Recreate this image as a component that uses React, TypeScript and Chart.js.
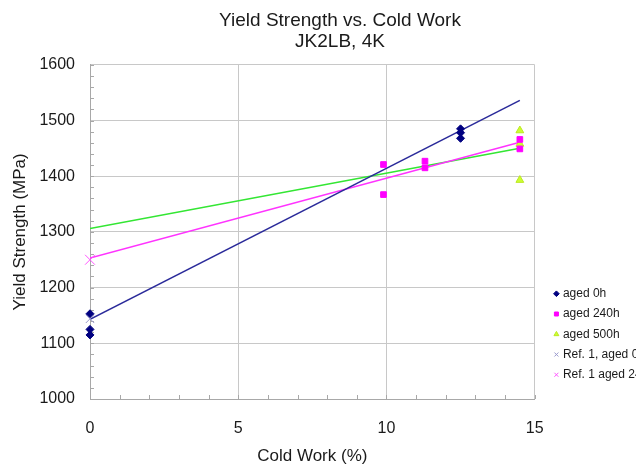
import React, { useEffect, useRef } from "react";
import { Chart, registerables } from "chart.js";

Chart.register(...registerables);

const FONT = "'Liberation Sans', Arial, Helvetica, sans-serif";
const TEXT = "#1a1a1a";

// ---- data ----
const aged0hX = [0, 0, 0, 12.5, 12.5, 12.5];
const aged0hY = [1153, 1125, 1115, 1485, 1478, 1468];
const aged240hX = [9.9, 9.9, 11.3, 11.3, 14.5, 14.5];
const aged240hY = [1421, 1367, 1427, 1415, 1466, 1449];
const aged500hX = [14.5, 14.5, 14.5];
const aged500hY = [1482, 1458, 1393];
const ref0hX = [0];
const ref0hY = [1144];
const ref240hX = [0];
const ref240hY = [1250];
const trendX = [0, 14.5];
const trend0hY = [1143, 1536];
const trend240hY = [1253, 1461];
const trend500hY = [1306, 1450];

const seriesLabels = ["aged 0h", "aged 240h", "aged 500h", "Ref. 1, aged 0h", "Ref. 1 aged 240h"];
const titleLines = ["Yield Strength vs. Cold Work", "JK2LB, 4K"];
const xTitle = "Cold Work (%)";
const yTitle = "Yield Strength (MPa)";
const xMin = 0, xMax = 15, xStep = 5, xMinorStep = 1;
const yMin = 1000, yMax = 1600, yStep = 100, yMinorStep = 20;

const pts = (xs: number[], ys: number[]) => xs.map((x, i) => ({ x, y: ys[i] }));

const minorTicks = {
  id: "minorTicks",
  beforeDraw(chart: any) {
    // lift the legend block a little above the bottom of the plot
    if (chart.legend) chart.legend.bottom = Math.round(chart.chartArea.bottom) - 10;
  },
  beforeDatasetsDraw(chart: any) {
    const { ctx, chartArea: a, scales } = chart;
    const x = scales.x, y = scales.y;
    ctx.save();
    ctx.strokeStyle = "#a8a8a8";
    ctx.lineWidth = 1;
    ctx.beginPath();
    for (let v = xMin; v <= xMax; v += xMinorStep) {
      const px = Math.round(x.getPixelForValue(v)) + 0.5;
      ctx.moveTo(px, a.bottom);
      ctx.lineTo(px, a.bottom - 4);
    }
    for (let v = yMin; v <= yMax; v += yMinorStep) {
      const py = Math.round(y.getPixelForValue(v)) + 0.5;
      ctx.moveTo(a.left, py);
      ctx.lineTo(a.left + 4, py);
    }
    ctx.stroke();
    ctx.restore();
  },
};

export default function App() {
  const ref = useRef<HTMLCanvasElement | null>(null);

  useEffect(() => {
    if (!ref.current) return;
    Chart.defaults.font.family = FONT;
    Chart.defaults.color = TEXT;
    const chart = new Chart(ref.current, {
      type: "scatter",
      data: {
        datasets: [
          {
            label: seriesLabels[0],
            data: pts(aged0hX, aged0hY),
            pointStyle: "rectRot",
            pointRadius: 4,
            backgroundColor: "#000080",
            borderColor: "#000080",
            borderWidth: 1,
            clip: false,
            order: 0,
          },
          {
            label: seriesLabels[1],
            data: pts(aged240hX, aged240hY),
            pointStyle: "rect",
            pointRadius: 4,
            backgroundColor: "#ff00ff",
            borderColor: "#ff00ff",
            borderWidth: 1,
            clip: false,
            order: 0,
          },
          {
            label: seriesLabels[2],
            data: pts(aged500hX, aged500hY),
            pointStyle: "triangle",
            pointRadius: 4.5,
            backgroundColor: "#ccff33",
            borderColor: "#bde820",
            borderWidth: 1,
            clip: false,
            order: 0,
          },
          {
            label: seriesLabels[3],
            data: pts(ref0hX, ref0hY),
            pointStyle: "crossRot",
            pointRadius: 6,
            backgroundColor: "#9999cc",
            borderColor: "#9999cc",
            borderWidth: 1,
            clip: false,
            order: -1,
          },
          {
            label: seriesLabels[4],
            data: pts(ref240hX, ref240hY),
            pointStyle: "crossRot",
            pointRadius: 7,
            backgroundColor: "#ff55ff",
            borderColor: "#ff55ff",
            borderWidth: 1,
            clip: false,
            order: -1,
          },
          {
            label: "trend 0h",
            data: pts(trendX, trend0hY),
            showLine: true,
            pointRadius: 0,
            borderColor: "#2a2a9a",
            borderWidth: 1.5,
            order: 1,
          },
          {
            label: "trend 240h",
            data: pts(trendX, trend240hY),
            showLine: true,
            pointRadius: 0,
            borderColor: "#ff33ff",
            borderWidth: 1.5,
            order: 1,
          },
          {
            label: "trend 500h",
            data: pts(trendX, trend500hY),
            showLine: true,
            pointRadius: 0,
            borderColor: "#33e633",
            borderWidth: 1.5,
            order: 1,
          },
        ],
      },
      options: {
        animation: false,
        responsive: false,
        layout: { padding: { left: 28.5, right: 28.5, top: 0, bottom: 0 } },
        plugins: {
          tooltip: { enabled: false },
          title: {
            display: true,
            text: titleLines,
            color: TEXT,
            font: { size: 19, weight: "normal", lineHeight: 1.1 },
            padding: { top: 10, bottom: 13 },
          },
          legend: {
            position: "right",
            align: "end",
            fullSize: false,
            labels: {
              usePointStyle: true,
              boxWidth: 1,
              boxHeight: 4,
              padding: 8.25,
              color: TEXT,
              font: { size: 12 },
              filter: (item: any) => item.datasetIndex < 5,
              sort: (a: any, b: any) => a.datasetIndex - b.datasetIndex,
            },
          },
        },
        scales: {
          x: {
            type: "linear",
            min: xMin,
            max: xMax,
            afterFit: (s: any) => {
              s.height = 68;
            },
            ticks: {
              stepSize: xStep,
              font: { size: 16 },
              color: TEXT,
              padding: 19.5,
              callback: (v: any) => String(v),
            },
            grid: { color: "#c8c8c8", drawTicks: false },
            border: { color: "#a8a8a8" },
            title: {
              display: true,
              text: xTitle,
              color: TEXT,
              font: { size: 17 },
              padding: { top: 8, bottom: 0 },
            },
          },
          y: {
            type: "linear",
            min: yMin,
            max: yMax,
            afterFit: (s: any) => {
              s.width = 61.5;
            },
            ticks: {
              stepSize: yStep,
              font: { size: 16 },
              color: TEXT,
              padding: 15,
              callback: (v: any) => String(v),
            },
            grid: { color: "#c8c8c8", drawTicks: false },
            border: { color: "#a8a8a8" },
            title: {
              display: true,
              text: yTitle,
              color: TEXT,
              font: { size: 17 },
              padding: { top: -18.5, bottom: 0 },
            },
          },
          gap: {
            type: "linear",
            position: "right",
            display: true,
            grid: { display: false },
            ticks: { display: false },
            border: { display: false },
            afterFit: (s: any) => {
              s.width = 13;
            },
          },
        },
      },
      plugins: [minorTicks],
    });
    return () => chart.destroy();
  }, []);

  return (
    <div
      style={{
        position: "fixed",
        left: 0,
        top: 0,
        width: 636,
        height: 467,
        overflow: "hidden",
        background: "#fff",
      }}
    >
      <canvas ref={ref} width={680} height={467} style={{ width: 680, height: 467, display: "block" }} />
    </div>
  );
}
